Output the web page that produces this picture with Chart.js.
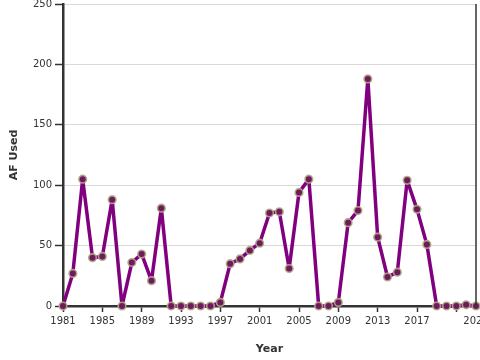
<!DOCTYPE html>
<html>
<head>
<meta charset="utf-8">
<script src="https://cdn.jsdelivr.net/npm/chart.js@4/dist/chart.umd.min.js"></script>
<style>
  html, body { margin: 0; padding: 0; background: #fff; }
  #wrap { width: 480px; height: 360px; }
</style>
</head>
<body>
<div id="wrap"><canvas id="chart" width="480" height="360"></canvas></div>
<script>
// 数据
const years = [1981, 1982, 1983, 1984, 1985, 1986, 1987, 1988, 1989, 1990,
  1991, 1992, 1993, 1994, 1995, 1996, 1997, 1998, 1999, 2000,
  2001, 2002, 2003, 2004, 2005, 2006, 2007, 2008, 2009, 2010,
  2011, 2012, 2013, 2014, 2015, 2016, 2017, 2018, 2019, 2020,
  2021, 2022, 2023];
const afUsed = [0, 27, 105, 40, 41, 88, 0, 36, 43, 21,
  81, 0, 0, 0, 0, 0, 3, 35, 39, 46,
  52, 77, 78, 31, 94, 105, 0, 0, 3, 69,
  79, 188, 57, 24, 28, 104, 80, 51, 0, 0,
  0, 1, 0];
const xTickValues = [1981, 1985, 1989, 1993, 1997, 2001, 2005, 2009, 2013, 2017, 2021, 2023];
const xTickLabels = ['1981', '1985', '1989', '1993', '1997', '2001', '2005', '2009', '2013', '2017', '', '2023'];
const yTickValues = [0, 50, 100, 150, 200, 250];

const axisColor = '#333';
const font = { family: "'DejaVu Sans', Verdana, sans-serif", size: 10 };
const titleFont = { family: "'DejaVu Sans', Verdana, sans-serif", size: 11, weight: 'bold' };

// 右侧边框
const rightBorder = {
  id: 'rightBorder',
  afterDraw(chart) {
    const { ctx, chartArea } = chart;
    ctx.save();
    ctx.strokeStyle = axisColor;
    ctx.lineWidth = 1.5;
    ctx.beginPath();
    ctx.moveTo(chartArea.right, chartArea.top);
    ctx.lineTo(chartArea.right, chartArea.bottom);
    ctx.stroke();
    ctx.restore();
  }
};

new Chart(document.getElementById('chart'), {
  type: 'line',
  data: {
    datasets: [{
      label: 'AF Used',
      data: years.map((y, i) => ({ x: y, y: afUsed[i] })),
      borderColor: '#800080',
      borderWidth: 3.5,
      borderJoinStyle: 'round',
      borderCapStyle: 'round',
      tension: 0,
      pointRadius: 3.8,
      pointBorderWidth: 1.6,
      pointBackgroundColor: '#6e1a60',
      pointBorderColor: 'rgba(180,170,130,0.9)',
      clip: false
    }]
  },
  options: {
    responsive: false,
    animation: false,
    layout: { autoPadding: false, padding: { top: 4, right: 4, left: 0, bottom: 0 } },
    plugins: { legend: { display: false }, tooltip: { enabled: false } },
    scales: {
      x: {
        type: 'linear',
        min: 1981,
        max: 2023,
        afterBuildTicks: (scale) => { scale.ticks = xTickValues.map(v => ({ value: v })); },
        afterFit: (scale) => {
          scale.height = 54;
          scale.paddingLeft = 0;
          scale.paddingRight = 0;
        },
        ticks: {
          autoSkip: false,
          maxRotation: 0,
          color: axisColor,
          font: font,
          padding: 3,
          callback: (v) => xTickLabels[xTickValues.indexOf(v)]
        },
        grid: {
          drawOnChartArea: false,
          tickLength: 6,
          tickColor: (ctx) => ctx.tick && ctx.tick.value === 2023 ? 'rgba(0,0,0,0)' : axisColor,
          tickWidth: 1.5
        },
        border: { color: axisColor, width: 2.5 },
        title: { display: true, text: 'Year', color: axisColor, font: titleFont, padding: { top: 7 } }
      },
      y: {
        min: 0,
        max: 250,
        afterBuildTicks: (scale) => { scale.ticks = yTickValues.map(v => ({ value: v })); },
        afterFit: (scale) => {
          scale.width = 63;
          scale.paddingTop = 0;
          scale.paddingBottom = 0;
        },
        ticks: { color: axisColor, font: font, padding: 3 },
        grid: {
          color: '#d9d9d9',
          lineWidth: 1,
          tickLength: 8,
          tickColor: axisColor,
          tickWidth: 1.5
        },
        border: { color: axisColor, width: 2.5 },
        title: { display: true, text: 'AF Used', color: axisColor, font: titleFont, padding: { top: 8, bottom: 8 } }
      }
    }
  },
  plugins: [rightBorder]
});
</script>
</body>
</html>
